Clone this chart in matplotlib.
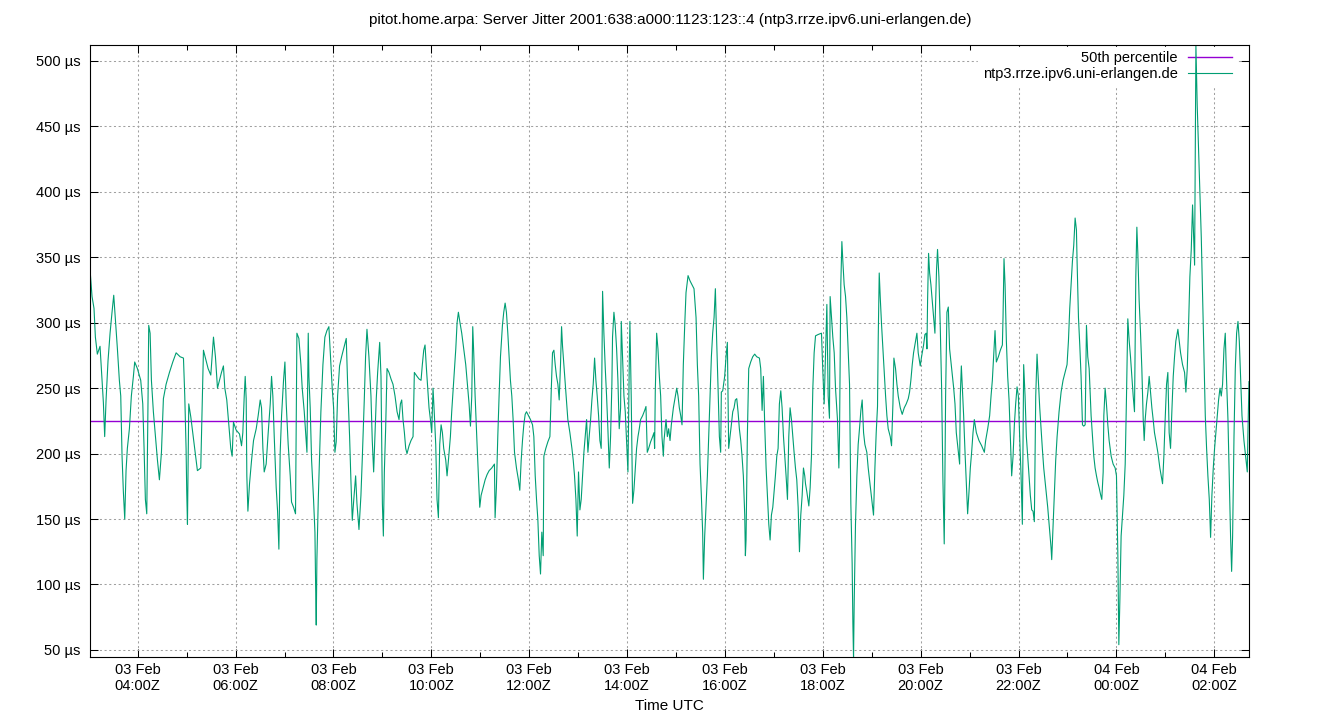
import matplotlib
matplotlib.use("Agg")
import matplotlib.pyplot as plt
import matplotlib.dates as mdates
import numpy as np
import pandas as pd

# minutes after 03 Feb 03:00Z and server jitter in microseconds
t1 = [1.5, 4.0, 6.4, 8.1, 10.5, 13.8, 16.3, 17.9, 19.5, 21.2, 23.6, 26.1, 28.5, 30.6, 32.6, 35.1, 37.5, 39.2, 40.8, 42.4,
      44.1, 45.7, 47.3, 49.8, 52.2, 54.7, 56.3, 59.6, 63.7, 66.2, 67.8, 69.4, 71.1, 72.7, 73.5, 75.2, 76.8, 79.2, 81.7, 84.2,
      86.6, 89.1, 91.5, 94.8, 98.9, 103.0, 107.1, 112.0, 116.1, 117.7, 119.3, 120.1, 121.0, 122.6, 125.1, 127.5, 130.0, 133.2,
      137.3, 139.0, 140.6, 143.9, 146.3, 149.6, 151.2, 152.9, 155.3, 157.8, 160.2, 162.7, 165.1, 166.8, 169.2, 171.7, 174.1,
      175.8, 177.4, 180.7]
v1 = [341, 320, 311, 289, 276, 282, 256, 239, 213, 241, 271, 292, 308, 321, 303, 280, 256, 244, 198, 171,
      150, 187, 204, 219, 244, 259, 270, 265, 256, 238, 204, 165, 154, 244, 298, 292, 256, 232, 213, 195,
      180, 201, 242, 253, 262, 270, 277, 274, 273, 244, 204, 171, 146, 238, 228, 216, 204, 187,
      189, 235, 279, 271, 265, 260, 274, 289, 274, 250, 256, 262, 267, 250, 241, 222, 204,
      198, 224, 218]

t2 = [184.8, 187.3, 188.9, 190.6, 191.8, 193.0, 193.8, 195.1, 197.1, 199.6,
      202.0, 205.3, 207.7, 210.2, 211.8, 213.5, 215.1, 217.5, 220.0, 222.5,
      224.1, 225.7, 227.4, 229.8, 231.5, 233.1, 234.7, 236.4, 238.8, 240.5,
      242.1, 244.5, 247.0, 248.6, 251.1, 253.5, 255.2, 257.6, 260.1, 261.7,
      264.2, 266.6, 267.5, 269.1, 269.9, 271.5, 273.2, 275.6, 277.3, 278.1,
      278.9, 279.7, 281.4, 283.0, 284.6, 287.1, 289.5, 292.0, 294.4, 296.1,
      298.5, 300.2, 301.8, 303.4, 305.1, 307.5, 310.0, 313.3, 315.7, 317.4,
      319.8, 321.4, 323.1, 324.7, 327.2, 328.8, 331.3, 333.7, 335.3, 337.8,
      339.4, 341.1, 343.5, 346.0, 347.6, 349.3, 350.9, 352.5, 354.2, 355.8]
v2 = [215, 206, 216, 244, 259, 242, 183, 156, 177, 195,
      210, 219, 229, 241, 235, 204, 186, 192, 216, 238,
      259, 244, 213, 174, 156, 127, 201, 229, 256, 270,
      238, 207, 183, 163, 159, 154, 292, 288, 268, 250,
      232, 210, 201, 292, 259, 235, 195, 165, 140, 101,
      69, 119, 165, 198, 232, 268, 289, 294, 297, 277,
      250, 235, 201, 209, 244, 267, 274, 282, 288, 253,
      213, 180, 149, 163, 183, 162, 142, 168, 195, 241,
      274, 295, 274, 244, 210, 186, 213, 242, 262, 276]

t3 = [356.7, 358.3, 360.0, 361.2, 362.4, 364.0, 365.7, 368.1, 370.6, 373.0,
      375.5, 378.0, 380.4, 382.1, 383.7, 385.3, 387.0, 388.6, 390.2, 392.7,
      395.1, 397.6, 399.2, 402.5, 405.0, 407.4, 409.0, 410.7, 412.3, 414.0,
      415.6, 417.2, 418.9, 420.5, 422.1, 423.8, 425.4, 427.0, 428.7, 430.3,
      432.0, 433.6, 435.2, 437.7, 439.3, 441.0, 443.4, 445.0, 447.5, 450.0,
      451.6, 453.2, 454.9, 457.3, 459.8, 462.2, 464.7, 466.3, 468.0, 469.6,
      470.8, 472.0, 473.7, 476.1, 477.8, 479.4, 481.0, 483.5, 486.0, 488.4,
      490.9, 494.1, 497.4, 498.2, 499.8, 501.5, 503.1, 504.8, 507.2, 508.8,
      510.5, 512.1, 513.8, 515.4, 517.0, 518.7, 520.3, 522.0, 524.4, 526.8,
      528.5]
v3 = [285, 259, 162, 137, 186, 219, 265, 262, 257, 253,
      244, 232, 226, 238, 241, 226, 216, 204, 200, 206,
      210, 213, 262, 259, 257, 256, 268, 279, 283, 265,
      250, 235, 226, 216, 250, 229, 207, 165, 151, 207,
      222, 216, 204, 195, 183, 195, 213, 232, 256, 280,
      300, 308, 301, 292, 280, 268, 250, 238, 221, 244,
      297, 277, 244, 207, 183, 159, 168, 174, 180, 184,
      187, 189, 192, 151, 174, 213, 244, 274, 298, 308,
      315, 308, 292, 274, 256, 244, 226, 201, 189, 180,
      172]

t4 = [530.2, 531.8, 533.4, 535.1, 536.7, 539.2, 541.6, 544.1, 545.7, 547.4,
      549.0, 550.6, 552.3, 553.9, 555.5, 557.2, 558.0, 560.4, 562.9, 565.4,
      567.0, 568.6, 570.3, 571.9, 573.5, 575.2, 576.8, 578.4, 579.7, 580.9,
      582.5, 584.2, 585.8, 587.4, 589.9, 592.4, 594.0, 595.6, 597.3, 598.9,
      600.5, 602.2, 603.8, 605.5, 607.1, 608.7, 610.4, 612.0, 613.6, 615.3,
      616.9, 618.5, 620.2, 621.8, 623.4, 625.1, 626.7, 628.3, 629.2, 630.0,
      631.6, 633.3, 634.9, 636.5, 638.2, 639.8, 641.4, 642.2, 643.9, 645.5,
      647.2, 648.8, 650.4, 652.1, 652.9, 654.5, 656.2, 657.8, 659.4, 661.1,
      662.7, 663.5, 665.1, 666.8, 668.4, 670.1, 671.7, 673.4, 675.0, 676.6,
      679.1, 681.6, 683.2, 684.8, 686.5, 688.9, 691.4, 693.0, 693.8, 694.6,
      696.3, 697.9, 699.6, 701.2, 702.8, 704.5]
v4 = [195, 210, 222, 230, 232, 229, 226, 222, 213, 183,
      165, 150, 122, 108, 140, 122, 198, 204, 209, 213,
      247, 277, 279, 268, 259, 253, 241, 268, 297, 282,
      268, 253, 238, 226, 216, 204, 195, 183, 165, 137,
      186, 157, 165, 183, 201, 213, 226, 201, 213, 226,
      241, 253, 273, 256, 244, 229, 210, 204, 265, 324,
      292, 265, 244, 219, 189, 213, 253, 289, 308, 298,
      280, 256, 219, 235, 301, 274, 244, 232, 210, 186,
      268, 301, 244, 162, 172, 189, 204, 213, 219, 226,
      229, 233, 236, 201, 204, 209, 213, 216, 204, 247,
      292, 280, 259, 244, 213, 198]

t5 = [705.3, 707.8, 709.4, 711.0, 712.7, 714.3, 716.8, 719.2, 720.9, 722.5,
      724.1, 725.8, 727.4, 729.0, 730.7, 732.3, 734.8, 737.2, 739.7, 742.1,
      744.6, 746.2, 747.8, 749.5, 751.1, 752.7, 753.6, 755.2, 756.8, 758.5,
      760.1, 761.7, 763.4, 765.0, 766.7, 768.3, 769.9, 771.6, 773.2, 774.8,
      775.6, 777.3, 779.7, 781.4, 783.0, 784.6, 786.3, 787.9, 789.6, 791.2,
      792.8, 794.5, 796.1, 797.7, 799.4, 801.0, 802.6, 804.3, 805.1, 805.9,
      807.5, 809.2, 811.6, 814.1, 816.5, 819.0, 822.3, 823.9, 825.6, 827.2,
      828.8, 830.5, 832.1, 833.8, 835.4, 837.0, 838.7, 840.3, 841.9, 843.6,
      845.2, 846.8, 848.5, 850.1, 851.8, 853.4, 855.0, 856.7, 858.3, 859.9,
      861.6, 863.2, 864.8, 866.5, 868.1, 869.8, 871.4, 873.0, 874.7, 876.3,
      877.9, 878.8]
v5 = [210, 226, 213, 219, 210, 222, 235, 244, 250, 244,
      235, 229, 222, 268, 298, 323, 336, 332, 329, 326,
      304, 268, 244, 192, 168, 140, 104, 137, 159, 183,
      213, 244, 274, 292, 304, 326, 286, 250, 213, 201,
      247, 248, 259, 274, 285, 204, 213, 222, 232, 235,
      241, 242, 232, 219, 210, 198, 183, 153, 122, 134,
      213, 265, 270, 274, 276, 274, 273, 265, 233, 259,
      222, 189, 168, 146, 134, 153, 159, 171, 183, 198,
      204, 238, 248, 235, 213, 198, 183, 165, 213, 235,
      226, 213, 201, 189, 180, 159, 125, 153, 168, 189,
      183, 177]

t6 = [880.4, 882.9, 884.5, 886.1, 887.8, 889.4, 891.1, 894.3, 898.4, 900.1,
      901.7, 903.3, 905.0, 906.6, 908.2, 909.0, 910.7, 912.3, 914.0, 915.6,
      918.0, 919.7, 920.5, 921.3, 922.1, 923.4, 924.6, 926.2, 927.9, 929.5,
      931.1, 932.8, 933.6, 934.4, 936.0, 936.9, 937.7, 938.5, 940.1, 941.8,
      943.4, 945.0, 946.7, 948.3, 950.0, 951.6, 954.0, 955.7, 957.3, 959.0,
      960.6, 962.2, 963.9, 965.5, 967.1, 968.0, 969.2, 970.4, 972.1, 973.7,
      975.3, 977.0, 978.6, 980.2, 982.7, 984.3, 986.0, 987.2, 989.2, 990.9,
      992.5, 995.0, 997.4, 999.9, 1002.3, 1004.8, 1006.4, 1008.0, 1009.7, 1011.3,
      1013.8, 1015.4, 1017.0, 1019.5, 1021.1, 1023.6, 1025.2, 1026.8, 1027.7, 1028.5,
      1029.7, 1031.0, 1032.6, 1034.2, 1035.8, 1037.5, 1038.3, 1039.5, 1040.7, 1042.4,
      1044.0, 1045.7, 1047.3, 1048.9, 1049.7, 1050.6, 1052.2]
v6 = [171, 160, 174, 198, 250, 277, 290, 291, 292, 262,
      238, 274, 314, 244, 227, 320, 304, 289, 277, 250,
      226, 189, 213, 268, 329, 362, 347, 329, 320, 304,
      280, 253, 207, 162, 116, 70, 44, 86, 146, 183,
      207, 219, 233, 241, 216, 207, 201, 189, 180, 171,
      162, 153, 189, 216, 236, 289, 338, 320, 298, 280,
      262, 244, 229, 219, 213, 206, 238, 273, 265, 253,
      244, 235, 230, 235, 238, 242, 247, 256, 268, 277,
      286, 292, 277, 267, 274, 283, 291, 292, 280, 317,
      353, 338, 329, 317, 304, 292, 314, 341, 356, 335,
      298, 250, 180, 131, 180, 244, 308]

t7 = [1053.9, 1055.5, 1058.0, 1060.5, 1062.1, 1063.7, 1066.2, 1067.8, 1068.6, 1069.9,
      1071.1, 1072.7, 1074.4, 1076.0, 1077.6, 1079.3, 1080.9, 1082.5, 1084.2, 1085.8,
      1088.3, 1091.5, 1094.8, 1098.1, 1099.7, 1102.2, 1104.6, 1106.3, 1107.9, 1109.5,
      1111.2, 1112.8, 1115.3, 1117.7, 1120.2, 1121.0, 1122.2, 1123.5, 1125.1, 1126.7,
      1128.4, 1130.0, 1131.6, 1133.3, 1134.9, 1136.5, 1138.2, 1139.8, 1141.4, 1143.1,
      1144.7, 1146.3, 1148.0, 1149.6, 1151.3, 1152.9, 1154.5, 1156.2, 1157.8, 1159.4,
      1161.1, 1162.7, 1164.3, 1166.0, 1167.6, 1169.2, 1170.9, 1173.3, 1175.8, 1178.3,
      1179.9, 1180.7, 1182.4, 1184.0, 1185.6, 1187.3, 1189.7, 1192.2, 1194.6, 1197.1,
      1199.5, 1201.2, 1202.8, 1204.5, 1206.1, 1207.7, 1209.4, 1211.0, 1211.8, 1213.5,
      1215.1, 1216.7, 1218.4, 1220.0, 1221.7, 1222.5, 1223.3, 1224.9, 1226.6, 1227.4]
v7 = [312, 280, 265, 250, 238, 216, 201, 192, 244, 267,
      250, 229, 201, 177, 154, 171, 189, 201, 216, 226,
      216, 210, 206, 201, 210, 219, 229, 244, 256, 274,
      294, 270, 274, 279, 283, 304, 349, 329, 286, 259,
      241, 213, 183, 198, 222, 238, 251, 244, 213, 183,
      146, 268, 244, 213, 198, 183, 168, 157, 156, 148,
      244, 276, 256, 235, 219, 204, 189, 174, 159, 140,
      128, 119, 146, 171, 195, 213, 232, 247, 256, 262,
      268, 286, 311, 329, 347, 359, 380, 371, 347, 304,
      283, 259, 222, 221, 222, 259, 298, 274, 265, 253]

t8 = [1229.0, 1230.7, 1232.3, 1233.9, 1235.6, 1237.2, 1238.8, 1240.5, 1242.1, 1243.8,
      1244.6, 1246.2, 1247.8, 1249.5, 1251.1, 1253.6, 1256.0, 1258.5, 1260.1, 1261.8,
      1263.0, 1264.2, 1265.8, 1267.5, 1269.1, 1270.8, 1272.4, 1274.0, 1275.7, 1277.3,
      1278.9, 1280.6, 1282.2, 1283.0, 1283.8, 1285.1, 1286.3, 1287.9, 1289.6, 1291.2,
      1292.9, 1294.1, 1295.3, 1296.9, 1298.6, 1300.2, 1301.8, 1303.5, 1305.1, 1306.7,
      1308.4, 1310.8, 1313.3, 1315.8, 1316.6, 1318.2, 1319.8, 1321.5, 1323.1, 1324.7,
      1326.4, 1328.0, 1329.7, 1331.3, 1332.9, 1335.4, 1337.0, 1338.7, 1341.1, 1343.6,
      1345.2, 1346.9, 1348.5, 1350.1, 1351.8, 1353.4, 1355.1, 1355.9, 1356.7, 1357.5,
      1359.1, 1360.8, 1362.4, 1364.1, 1365.7, 1367.3, 1369.0, 1370.6, 1372.2, 1373.9,
      1375.5, 1377.1, 1378.8, 1380.4, 1382.0, 1383.7, 1385.3, 1387.0, 1388.6, 1390.2,
      1391.9, 1393.5, 1395.1, 1396.8, 1398.4, 1400.0, 1401.3, 1402.5, 1404.2, 1405.8,
      1407.4, 1409.1, 1410.7, 1412.3, 1414.0, 1416.4, 1418.9, 1420.5, 1421.3, 1422.6]
v8 = [229, 213, 198, 189, 183, 178, 174, 169, 165, 186,
      229, 250, 238, 222, 210, 198, 192, 189, 183, 122,
      54, 86, 137, 153, 168, 192, 244, 303, 286, 274,
      259, 244, 232, 280, 335, 373, 353, 317, 292, 265,
      226, 210, 226, 238, 247, 259, 247, 235, 226, 216,
      210, 201, 189, 180, 177, 198, 226, 253, 262, 216,
      204, 232, 259, 274, 286, 295, 286, 277, 268, 262,
      247, 265, 298, 335, 356, 390, 359, 344, 426, 512,
      466, 432, 402, 365, 320, 274, 229, 204, 183, 165,
      136, 168, 189, 204, 216, 229, 241, 250, 244, 253,
      280, 292, 256, 226, 180, 137, 110, 137, 213, 265,
      292, 301, 286, 259, 229, 210, 195, 186, 216, 255]

p50 = 225
yticks = [50, 100, 150, 200, 250, 300, 350, 400, 450, 500]
title = "pitot.home.arpa: Server Jitter 2001:638:a000:1123:123::4 (ntp3.rrze.ipv6.uni-erlangen.de)"
server = "ntp3.rrze.ipv6.uni-erlangen.de"

minutes = np.array(t1 + t2 + t3 + t4 + t5 + t6 + t7 + t8)
jitter = np.array(v1 + v2 + v3 + v4 + v5 + v6 + v7 + v8)
times = pd.Timestamp("2025-02-03 03:00") + pd.to_timedelta(minutes, unit="min")

plt.rcParams["font.family"] = ["Liberation Sans", "DejaVu Sans"]
plt.rcParams["font.size"] = 10.5

fig = plt.figure(figsize=(13.4, 7.2), dpi=100)
ax = fig.add_axes([90 / 1340, 1 - 657 / 720, 1159 / 1340, 612 / 720])

ax.axhline(p50, color="#9400d3", lw=1.0, label="50th percentile")
ax.plot(times, jitter, color="#009e73", lw=0.8, label=server)

ax.set_xlim(times[0], times[-1])
ax.set_ylim(44.6, 512.2)
ax.set_yticks(yticks)
ax.set_yticklabels([f"{v} µs" for v in yticks])

ax.xaxis.set_major_locator(mdates.HourLocator(byhour=range(0, 24, 2)))
ax.xaxis.set_minor_locator(mdates.HourLocator(byhour=range(1, 24, 2)))
ax.xaxis.set_major_formatter(mdates.DateFormatter("%d %b\n%H:%MZ"))

ax.tick_params(which="both", direction="in", top=True, right=True, width=0.75)
ax.tick_params(which="major", length=6)
ax.tick_params(which="minor", length=3.5)
ax.tick_params(axis="x", pad=4)
ax.tick_params(axis="y", pad=7)
for s in ax.spines.values():
    s.set_linewidth(0.8)

ax.set_axisbelow(True)
ax.grid(which="major", color="#a0a0a0", lw=0.75, ls=(0, (2, 2.5)))

leg = ax.legend(loc="upper right", bbox_to_anchor=(0.9888, 0.9967), borderaxespad=0,
                markerfirst=False, frameon=True, fancybox=False, framealpha=1,
                facecolor="white", edgecolor="white", handlelength=3.0,
                handletextpad=0.7, labelspacing=0.1, borderpad=0.3)
for txt in leg.get_texts():
    txt.set_ha("right")
leg._legend_box.align = "right"
leg.set_zorder(1.5)

fig.text(0.5, 1 - 20 / 720, title, ha="center", va="center", fontsize=11)
fig.text(669.5 / 1340, 1 - 706 / 720, "Time UTC", ha="center", va="center", fontsize=11)

fig.savefig("out.png", dpi=100)
